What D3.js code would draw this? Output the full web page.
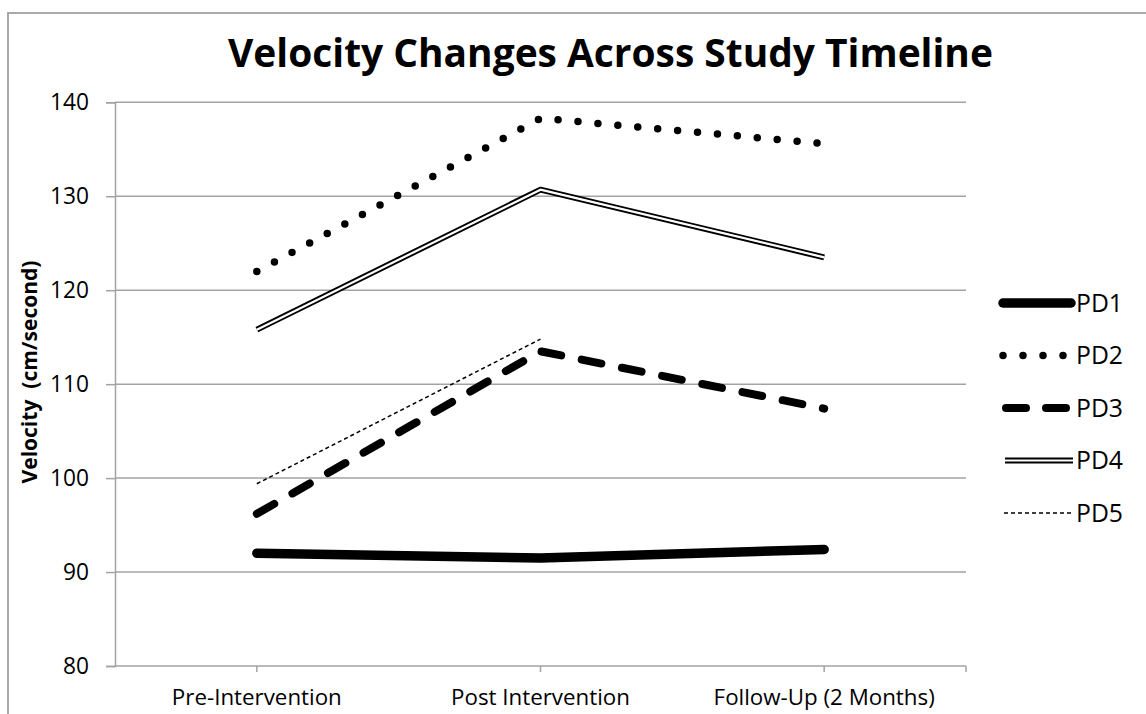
<!DOCTYPE html>
<html>
<head>
<meta charset="utf-8">
<script src="https://cdn.jsdelivr.net/npm/d3@7"></script>
<style>
  html, body { margin: 0; padding: 0; background: #fff; }
  svg { display: block; }
  text { font-family: "Open Sans", "Noto Sans", sans-serif; fill: #000; }
</style>
</head>
<body>
<svg id="chart" width="1146" height="714"></svg>
<script>
// ---- data ----
const categories = ["Pre-Intervention", "Post Intervention", "Follow-Up (2 Months)"];
const seriesNames = ["PD1", "PD2", "PD3", "PD4", "PD5"];
const pd1 = [92.0, 91.5, 92.4];
const pd2 = [122.0, 138.3, 135.6];
const pd3 = [96.2, 113.5, 107.4];
const pd4 = [115.8, 130.7, 123.5];
const pd5 = [99.4, 114.8, null];
const yTicks = [80, 90, 100, 110, 120, 130, 140];
const titleText = "Velocity Changes Across Study Timeline";
const yLabelText = "Velocity  (cm/second)";

// ---- layout ----
const svg = d3.select("#chart");
const plot = { left: 115, right: 966, top: 102.3, bottom: 666 };
const gridColor = "#a3a3a3";

const x = d3.scaleBand().domain(categories).range([plot.left, plot.right]);
const xc = c => x(c) + x.bandwidth() / 2;
const y = d3.scaleLinear().domain([80, 140]).range([plot.bottom, plot.top]);

function fit(sel, target) {
  const w = sel.node().getComputedTextLength();
  const fs = parseFloat(sel.attr("font-size"));
  const nf = fs * target / w;
  sel.attr("font-size", nf);
  return nf;
}

// outer frame
svg.append("rect")
  .attr("x", 8).attr("y", 13).attr("width", 1200).attr("height", 800)
  .attr("fill", "none").attr("stroke", "#a0a0a0").attr("stroke-width", 1.8);

// gridlines
svg.append("g").selectAll("line").data(yTicks.filter(t => t > 80)).join("line")
  .attr("x1", plot.left).attr("x2", plot.right)
  .attr("y1", d => y(d)).attr("y2", d => y(d))
  .attr("stroke", gridColor).attr("stroke-width", 1.5);

// y axis
const yAxis = d3.axisLeft(y).tickValues(yTicks).tickSize(9).tickPadding(17).tickFormat(d3.format("d"));
const gy = svg.append("g").attr("transform", `translate(${plot.left},0)`).call(yAxis);
gy.select(".domain").attr("stroke", gridColor).attr("stroke-width", 1.5);
gy.selectAll(".tick line").attr("stroke", gridColor).attr("stroke-width", 1.5);
gy.selectAll(".tick text").attr("font-size", 22).attr("font-family", "Open Sans").attr("fill", "#000");
const ytFs = fit(gy.select(".tick:last-of-type text"), 39);
gy.selectAll(".tick text").attr("font-size", ytFs);

// x axis
const xAxis = d3.axisBottom(x).tickSize(6).tickPadding(17);
const gx = svg.append("g").attr("transform", `translate(0,${plot.bottom})`);
gx.call(xAxis);
gx.selectAll(".tick").attr("transform", d => `translate(${xc(d)},0)`);
gx.select(".domain").attr("d", `M${plot.left},0H${plot.right}`).attr("stroke", gridColor).attr("stroke-width", 1.5);
gx.selectAll(".tick line").attr("stroke", gridColor).attr("stroke-width", 1.5);
gx.append("line").attr("x1", plot.right).attr("x2", plot.right).attr("y1", 0).attr("y2", 6)
  .attr("stroke", gridColor).attr("stroke-width", 1.5);
gx.selectAll(".tick text").attr("font-size", 21).attr("font-family", "Open Sans").attr("fill", "#000");
const xtFs = fit(gx.select(".tick text"), 170);
gx.selectAll(".tick text").attr("font-size", xtFs);

// title
const title = svg.append("text").attr("x", 610.5).attr("y", 67)
  .attr("text-anchor", "middle").attr("font-weight", "bold").attr("font-size", 36)
  .text(titleText);
fit(title, 765);

// y label
const yl = svg.append("text").attr("transform", "translate(37,372) rotate(-90)")
  .attr("text-anchor", "middle").attr("font-weight", "bold").attr("font-size", 18)
  .attr("xml:space", "preserve").style("white-space", "pre")
  .text(yLabelText);
fit(yl, 223);

// ---- series ----
const styles = {
  PD1: [{ stroke: "#000", width: 9.5, dash: null, cap: "round" }],
  PD2: [{ stroke: "#000", width: 7.5, dash: "0 20", cap: "round" }],
  PD3: [{ stroke: "#000", width: 8, dash: "20 21", cap: "round" }],
  PD4: [{ stroke: "#000", width: 6, dash: null, cap: "butt" }, { stroke: "#fff", width: 2.2, dash: null, cap: "butt" }],
  PD5: [{ stroke: "#000", width: 1.5, dash: "4 3", cap: "butt" }]
};
const dataMap = { PD1: pd1, PD2: pd2, PD3: pd3, PD4: pd4, PD5: pd5 };

const line = d3.line()
  .defined(d => d.v != null)
  .x(d => xc(d.c)).y(d => y(d.v));

const gSeries = svg.append("g");
seriesNames.forEach(name => {
  const pts = categories.map((c, i) => ({ c, v: dataMap[name][i] }));
  styles[name].forEach(s => {
    gSeries.append("path").datum(pts)
      .attr("d", line).attr("fill", "none")
      .attr("stroke", s.stroke).attr("stroke-width", s.width)
      .attr("stroke-dasharray", s.dash)
      .attr("stroke-linecap", s.cap).attr("stroke-linejoin", "round");
  });
});

// ---- legend ----
const legendY = d3.scalePoint().domain(seriesNames).range([303, 513]);
const legendX0 = { PD1: 1003, PD2: 1003, PD3: 1006, PD4: 1005, PD5: 1004 };
const legendX1 = { PD1: 1071, PD2: 1073, PD3: 1070, PD4: 1073, PD5: 1073 };
const lg = svg.append("g");
seriesNames.forEach(name => {
  const ly = legendY(name);
  styles[name].forEach(s => {
    lg.append("line")
      .attr("x1", legendX0[name]).attr("x2", legendX1[name])
      .attr("y1", ly).attr("y2", ly)
      .attr("stroke", s.stroke).attr("stroke-width", s.width)
      .attr("stroke-dasharray", name === "PD3" ? "20 20" : s.dash)
      .attr("stroke-linecap", s.cap);
  });
});
const legTexts = lg.selectAll("text.leg").data(seriesNames).join("text")
  .attr("class", "leg")
  .attr("x", 1076).attr("y", d => legendY(d))
  .attr("dy", "0.36em").attr("font-size", 20)
  .text(d => d);
const lfs = fit(d3.select(legTexts.nodes()[0]), 47);
legTexts.attr("font-size", lfs);
</script>
</body>
</html>
